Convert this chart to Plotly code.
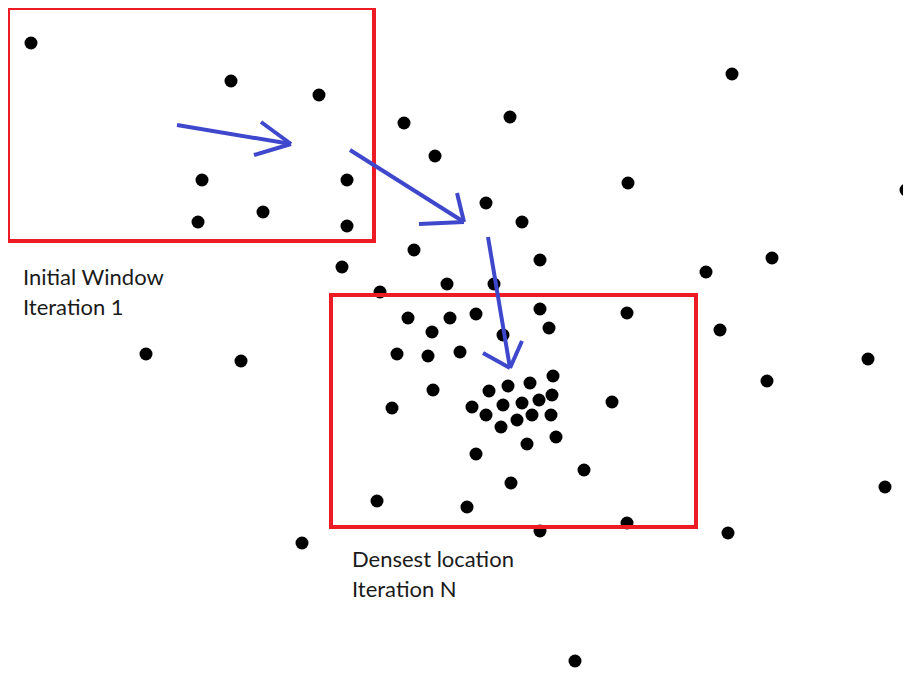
import plotly.graph_objects as go

# Data points (pixel-space coordinates, y grows downward)
point_x = [31, 231, 319, 404, 435, 202, 347, 263, 198, 347, 414, 342, 447, 380,
           408, 450, 476, 540, 627, 432, 549, 503, 397, 428, 460, 553, 508, 530,
           489, 433, 552, 539, 522, 503, 472, 392, 612, 486, 532, 551, 517, 501,
           556, 527, 476, 584, 511, 377, 467, 627,
           510, 732, 628, 906, 486, 522, 540, 706, 772, 494, 146, 241, 720, 868,
           767, 885, 728, 540, 302, 575]
point_y = [43, 81, 95, 123, 156, 180, 180, 212, 222, 226, 250, 267, 284, 292,
           318, 318, 314, 309, 313, 332, 328, 335, 354, 356, 352, 376, 386, 383,
           391, 390, 395, 400, 403, 405, 407, 408, 402, 415, 415, 415, 420, 427,
           437, 444, 454, 470, 483, 501, 507, 523,
           117, 74, 183, 190, 203, 222, 260, 272, 258, 284, 354, 361, 330, 359,
           381, 487, 533, 531, 543, 661]

# Search windows: (x0, y0, x1, y1)
windows = [(8, 8, 374, 241), (331, 295, 696, 527)]

# Shift arrows: start, tip, arm1 end, arm2 end
arrows = [
    ((177, 125), (291, 144), (261, 122), (254, 155)),
    ((350, 150), (464, 222), (457, 193), (419, 224)),
    ((488, 237), (510, 368), (483, 353), (522, 341)),
]

labels = [
    (21, "Initial Window", "Iteration 1", 276, 306),
    (350, "Densest location", "Iteration N", 558, 588),
]

W, H = 911, 673
OFF = 8  # page body margin offset
RED = "#ED1C24"
BLUE = "#3F48CC"

fig = go.Figure()
fig.add_trace(go.Scatter(
    x=point_x, y=point_y, mode="markers",
    marker=dict(size=13, color="black", line=dict(width=0)),
    hoverinfo="skip", showlegend=False, cliponaxis=False))

shapes = []
for (x0, y0, x1, y1) in windows:
    shapes.append(dict(type="rect", x0=x0, y0=y0, x1=x1, y1=y1,
                       xref="x", yref="y", line=dict(color=RED, width=4),
                       fillcolor="rgba(0,0,0,0)", layer="above"))
for (s, t, a1, a2) in arrows:
    for p in (s, a1, a2):
        shapes.append(dict(type="line", x0=p[0], y0=p[1], x1=t[0], y1=t[1],
                           xref="x", yref="y", line=dict(color=BLUE, width=4),
                           layer="above"))

annotations = []
for (x, l1, l2, y1, y2) in labels:
    for txt, yy in ((l1, y1), (l2, y2)):
        annotations.append(dict(x=x, y=yy, xref="x", yref="y", text=txt,
                                showarrow=False, xanchor="left", yanchor="middle",
                                font=dict(family="Lato", size=22, color="#1a1a1a")))

fig.update_layout(
    width=W - OFF, height=H - OFF, margin=dict(l=0, r=0, t=0, b=0),
    paper_bgcolor="white", plot_bgcolor="white",
    xaxis=dict(range=[OFF, W], visible=False, showgrid=False, zeroline=False),
    yaxis=dict(range=[H, OFF], visible=False, showgrid=False, zeroline=False),
    shapes=shapes, annotations=annotations,
)
fig.write_html("out.html")
